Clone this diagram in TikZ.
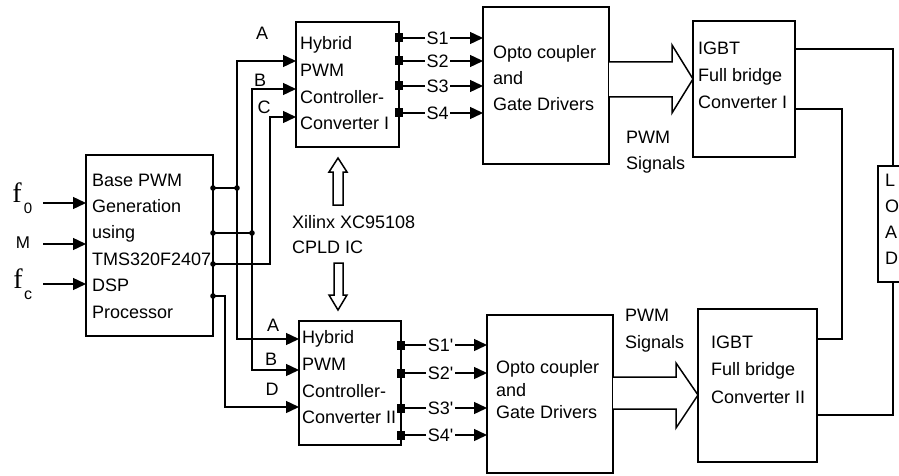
\documentclass[tikz,border=0pt]{standalone}
\usepackage{fontspec}
\setmainfont{Liberation Sans}
\newfontfamily\serifrm{Liberation Serif}
\usetikzlibrary{arrows.meta,calc}
\begin{document}
\begin{tikzpicture}[x=1pt,y=-1pt,
  box/.style={draw, line width=1.5pt, inner sep=0, outer sep=0, anchor=north west},
  txt/.style={inner sep=0, align=left, anchor=north west, font=\fontsize{18}{26.5}\selectfont},
  lbl/.style={inner sep=0, font=\fontsize{18}{18}\selectfont},
  slbl/.style={fill=white, inner sep=1.5pt, font=\fontsize{18}{18}\selectfont, pos=0.46},
  wire/.style={line width=1.4pt},
  arr/.style={line width=1.4pt, -{Triangle[length=13pt,width=12pt]}},
  hollow/.style={line width=1.5pt, fill=white, line join=miter}]
\useasboundingbox (0,0) rectangle (899,476);
\fill[white] (0,0) rectangle (899,476);

% ---------- boxes ----------
\node[box, minimum width=127pt, minimum height=181pt] (dsp) at (86,155) {};
\node[box, minimum width=103pt, minimum height=125pt] (ctrl1) at (296,22) {};
\node[box, minimum width=102pt, minimum height=124pt] (ctrl2) at (299,321) {};
\node[box, minimum width=126pt, minimum height=157pt] (opto1) at (483,7) {};
\node[box, minimum width=126pt, minimum height=158pt] (opto2) at (487,315) {};
\node[box, minimum width=102pt, minimum height=136pt] (igbt1) at (693,21) {};
\node[box, minimum width=119pt, minimum height=153pt] (igbt2) at (698,309) {};
\node[box, minimum width=30pt, minimum height=116pt] (load) at (878,166) {};

% ---------- box texts ----------
\node[txt, font=\fontsize{18}{26.4}\selectfont] (dsptxt) at (92,173.5) {Base PWM\\Generation\\using\\TMS320F2407\\DSP\\Processor};
\node[txt, font=\fontsize{18}{26.7}\selectfont] (c1txt) at (300,36.5) {Hybrid\\PWM\\Controller-\\Converter I};
\node[txt, font=\fontsize{18}{26.7}\selectfont] (c2txt) at (302,330.5) {Hybrid\\PWM\\Controller-\\Converter II};
\node[txt, font=\fontsize{18}{26}\selectfont] (o1txt) at (493,45.5) {Opto coupler\\and\\Gate Drivers};
\node[txt, font=\fontsize{18}{22.5}\selectfont] (o2txt) at (496,360.5) {Opto coupler\\and\\Gate Drivers};
\node[txt, font=\fontsize{18}{27}\selectfont] (i1txt) at (698,41.5) {IGBT\\Full bridge\\Converter I};
\node[txt, font=\fontsize{18}{27.5}\selectfont] (i2txt) at (711,335.5) {IGBT\\Full bridge\\Converter II};
\node[txt, font=\fontsize{18}{26}\selectfont] (loadtxt) at (885,173.5) {L\\O\\A\\D};
\node[txt, font=\fontsize{18}{25}\selectfont] (xtxt) at (292,215.5) {Xilinx XC95108\\CPLD IC};
\node[txt, font=\fontsize{18}{26}\selectfont] (pwm1) at (626,130.5) {PWM\\Signals};
\node[txt, font=\fontsize{18}{27}\selectfont] (pwm2) at (625,308.5) {PWM\\Signals};

% ---------- inputs ----------
\node[anchor=base, inner sep=0, font=\serifrm\fontsize{28}{28}\selectfont] (f0) at (17,202) {f};
\node[inner sep=0, font=\fontsize{15}{15}\selectfont] (f0s) at (28,208) {0};
\node[inner sep=0, font=\fontsize{17}{17}\selectfont] (mlbl) at (23,243) {M};
\node[anchor=base, inner sep=0, font=\serifrm\fontsize{28}{28}\selectfont] (fc) at (18,288) {f};
\node[inner sep=0, font=\fontsize{16}{16}\selectfont] (fcs) at (28,295) {c};
\coordinate (in1) at (43,203);
\coordinate (in2) at (43,244);
\coordinate (in3) at (43,284);
\draw[arr] (in1) -- (dsp.west |- in1);
\draw[arr] (in2) -- (dsp.west |- in2);
\draw[arr] (in3) -- (dsp.west |- in3);

% ---------- bus from DSP ----------
\coordinate (d1) at (dsp.east |- 0,188);
\coordinate (d2) at (dsp.east |- 0,233);
\coordinate (d3) at (dsp.east |- 0,264);
\coordinate (d4) at (dsp.east |- 0,296);
\coordinate (j1) at (237,188);
\coordinate (j2) at (252,233);
\coordinate (c3) at (270,264);
\coordinate (c4) at (225,296);
\draw[wire] (d1) -- (j1);
\draw[wire] (d2) -- (j2);
\draw[arr] (j1) |- (ctrl1.west |- 0,61);
\draw[arr] (j1) |- (ctrl2.west |- 0,339);
\draw[arr] (j2) |- (ctrl1.west |- 0,89);
\draw[arr] (j2) |- (ctrl2.west |- 0,370);
\draw[arr] (d3) -- (c3) |- (ctrl1.west |- 0,117);
\draw[arr] (d4) -- (c4) |- (ctrl2.west |- 0,407);
\foreach \p in {d1,d2,d3,d4,j1,j2} \fill (\p) circle (2.8);

\node[lbl] (la1) at (262,33) {A};
\node[lbl] (lb1) at (260,80) {B};
\node[lbl] (lc1) at (264,107) {C};
\node[lbl] (la2) at (273,325) {A};
\node[lbl] (lb2) at (271,359) {B};
\node[lbl] (ld2) at (272,389) {D};

% ---------- Xilinx hollow arrows ----------
\draw[hollow] (333,205) -- (333,172) -- (329,172) -- (338,158) -- (347,172) -- (343,172) -- (343,205) -- cycle;
\draw[hollow] (334,263) -- (343,263) -- (343,295) -- (347,295) -- (338,310) -- (329,295) -- (334,295) -- cycle;

% ---------- S signals ----------
\foreach \y/\l [count=\i] in {38/S1,61/S2,86/S3,113/S4} {
  \coordinate (p\i) at (ctrl1.east |- 0,\y);
  \draw[arr] (p\i) -- node[slbl]{\l} (p\i -| opto1.west);
  \fill (p\i) ++(-4,-4.5) rectangle ++(8,9);
}
\foreach \y/\l [count=\i] in {345/1,373/2,408/3,435/4} {
  \coordinate (q\i) at (ctrl2.east |- 0,\y);
  \draw[arr] (q\i) -- node[slbl]{S\l\textquotesingle} (q\i -| opto2.west);
  \fill (q\i) ++(-4,-4.5) rectangle ++(8,9);
}

% ---------- big PWM arrows ----------
\draw[hollow] (opto1.east |- 0,62) -- (672,62) -- (672,45) -- (igbt1.west |- 0,79) -- (672,113) -- (672,97) -- (opto1.east |- 0,97);
\draw[hollow] (opto2.east |- 0,377) -- (676,377) -- (676,363) -- (igbt2.west |- 0,395) -- (676,428) -- (676,409) -- (opto2.east |- 0,409);

% ---------- output wiring ----------
\draw[wire] (igbt1.east |- 0,49) -| (load.north);
\draw[wire] (igbt2.east |- 0,415) -| (load.south);
\coordinate (r1) at (842,109);
\draw[wire] (igbt1.east |- r1) -- (r1) |- (igbt2.east |- 0,339);
\end{tikzpicture}
\end{document}
